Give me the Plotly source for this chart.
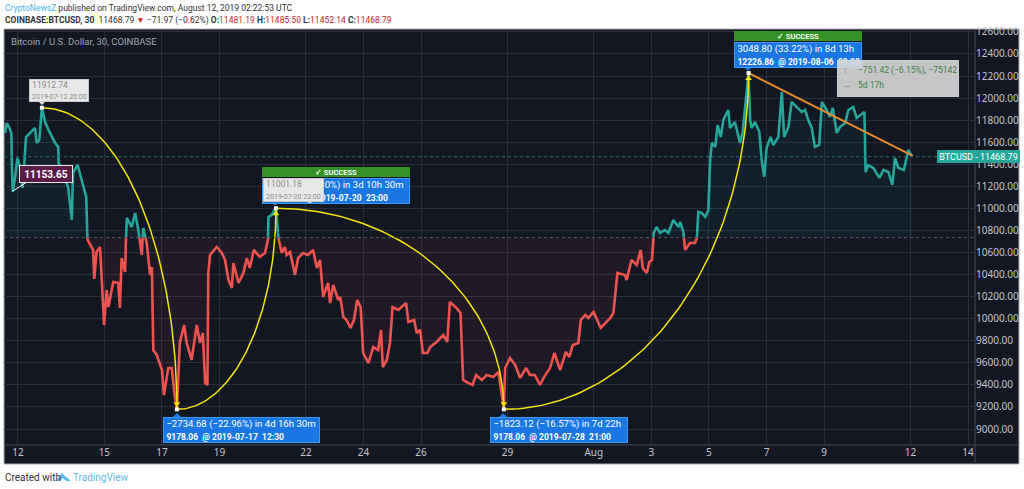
import numpy as np
import pandas as pd
import plotly.graph_objects as go

W = 1024
H = 489

START = pd.Timestamp("2019-07-12")

# days since Jul 12 00:00, close price
price_days = [
    -0.45, -0.39, -0.30, -0.23, -0.21, -0.18, -0.10, -0.02, 0.07, 0.16,
    0.28, 0.42, 0.59, 0.65, 0.74, 0.83, 0.94, 1.06, 1.17, 1.29,
    1.40, 1.41, 1.53, 1.74, 1.87, 1.91, 2.07, 2.22, 2.37, 2.41,
    2.42, 2.61, 2.65, 2.73, 2.85, 2.99, 3.08, 3.14, 3.31, 3.48,
    3.54, 3.60, 3.72, 3.75, 3.78, 3.95, 4.07, 4.18, 4.24, 4.30,
    4.35, 4.47, 4.59, 4.65, 4.70, 4.82, 5.00, 5.07, 5.22, 5.34,
    5.45, 5.52, 5.62, 5.77, 5.86, 6.03, 6.21, 6.32, 6.42, 6.50,
    6.58, 6.61, 6.67, 6.90, 7.08, 7.19, 7.31, 7.43, 7.48, 7.66,
    7.83, 7.95, 8.05, 8.19, 8.40, 8.58, 8.68, 8.70, 8.81, 8.96,
    9.03, 9.06, 9.16, 9.27, 9.33, 9.45, 9.62, 9.73, 9.90, 10.07,
    10.25, 10.38, 10.49, 10.60, 10.77, 10.84, 10.95, 11.12, 11.19, 11.30,
    11.41, 11.55, 11.67, 11.78, 11.90, 11.99, 12.17, 12.34, 12.51, 12.61,
    12.67, 12.81, 12.92, 13.01, 13.21, 13.48, 13.56, 13.76, 13.85, 13.97,
    14.06, 14.22, 14.32, 14.54, 14.77, 14.91, 15.00, 15.23, 15.37, 15.46,
    15.64, 15.79, 15.91, 16.11, 16.28, 16.51, 16.69, 16.875, 16.92, 17.09,
    17.27, 17.44, 17.65, 17.78, 17.95, 18.13, 18.27, 18.48, 18.63, 18.83,
    19.03, 19.15, 19.27, 19.46, 19.55, 19.70, 19.81, 19.99, 20.24, 20.45,
    20.57, 20.68, 20.82, 21.08, 21.14, 21.31, 21.49, 21.63, 21.70, 21.84,
    21.93, 22.02, 22.07, 22.08, 22.18, 22.30, 22.47, 22.59, 22.76, 22.94,
    23.00, 23.11, 23.17, 23.34, 23.52, 23.58, 23.63, 23.75, 23.87, 23.98,
    24.04, 24.10, 24.22, 24.30, 24.41, 24.50, 24.67, 24.73, 24.90, 25.08,
    25.17, 25.375, 25.43, 25.48, 25.60, 25.75, 25.83, 25.92, 26.00, 26.14,
    26.23, 26.41, 26.53, 26.61, 26.76, 26.87, 27.05, 27.22, 27.34, 27.45,
    27.57, 27.68, 27.83, 27.92, 28.09, 28.20, 28.30, 28.44, 28.55, 28.73,
    28.84, 29.01, 29.13, 29.40, 29.44, 29.53, 29.71, 29.92, 30.06, 30.23,
    30.37, 30.46, 30.58, 30.77, 30.92, 31.06,
]
price_close = [
    11684, 11774, 11729, 11684, 11375, 11150, 11285, 11457, 11375, 11185,
    11647, 11684, 11729, 11593, 11620, 11912, 11783, 11711, 11647, 11593,
    11557, 11412, 11348, 11194, 10895, 11321, 11393, 11257, 11103, 10732,
    10713, 10623, 10360, 10605, 10650, 9943, 10260, 10106, 10333, 10324,
    10097, 10550, 10423, 10713, 10913, 10831, 10958, 10804, 10686, 10577,
    10822, 10686, 10396, 10469, 9716, 9671, 9535, 9308, 9553, 9553,
    9290, 9178, 9780, 9943, 9780, 9626, 9943, 9780, 9870, 9417,
    9399, 10414, 10577, 10650, 10596, 10532, 10351, 10278, 10505, 10324,
    10414, 10550, 10460, 10623, 10559, 10596, 10713, 10922, 10940, 11001,
    10777, 10713, 10596, 10650, 10577, 10605, 10396, 10550, 10596, 10577,
    10623, 10460, 10532, 10197, 10324, 10142, 10306, 10170, 10197, 10015,
    9988, 9916, 9988, 10170, 10106, 9689, 9598, 9743, 9716, 9898,
    9562, 9626, 9780, 10106, 10079, 10142, 9970, 9988, 9870, 9898,
    9689, 9689, 9743, 9789, 9852, 9789, 10151, 10097, 10052, 9444,
    9417, 9399, 9490, 9444, 9490, 9471, 9517, 9178, 9553, 9644,
    9580, 9462, 9553, 9490, 9490, 9399, 9471, 9553, 9689, 9535,
    9698, 9653, 9762, 9780, 9988, 10034, 10006, 10061, 9916, 9970,
    10006, 10052, 10414, 10396, 10351, 10532, 10487, 10623, 10460, 10414,
    10514, 10532, 10713, 10777, 10831, 10777, 10804, 10777, 10895, 10831,
    10877, 10786, 10623, 10686, 10686, 10732, 10967, 10958, 10922, 10985,
    11439, 11593, 11557, 11756, 11647, 11801, 11892, 11729, 11783, 11593,
    11693, 12226.86, 11801, 11729, 11783, 11693, 11439, 11285, 11548, 11647,
    11575, 11647, 12055, 11647, 11738, 11965, 11919, 11874, 11892, 11801,
    11729, 11557, 11575, 11965, 11892, 11829, 11910, 11684, 11738, 11774,
    11892, 11919, 11820, 11874, 11330, 11393, 11366, 11276, 11348, 11330,
    11212, 11457, 11366, 11348, 11529, 11468.79,
]

base_price = 10735
last_price = 11468.79

pivot_days = [0.83, 5.52, 8.96, 16.875, 25.375]
pivot_prices = [11912.74, 9178.06, 11001.18, 9178.06, 12226.86]

trend_days = [25.375, 31.08]
trend_prices = [12226.86, 11475.44]

y_ticks = list(range(9000, 12601, 200))
x_tick_days = [0, 3, 5, 7, 10, 12, 14, 17, 20, 22, 24, 26, 28, 31, 33]
x_tick_text = ["12", "15", "17", "19", "22", "24", "26", "29", "Aug", "3", "5", "7", "9", "12", "14"]

BG = "#131722"
GRID = "#2a2e3b"
TEAL = "#26a69a"
RED = "#ef5350"
YELLOW = "#f2e60c"
BLUE = "#1976e2"
FONT = "Noto Sans"
LABEL_FONT = "Roboto"


def to_time(days):
    return START + pd.to_timedelta(np.asarray(days, dtype=float) * 86400, unit="s")


def px(x):
    return x / W


def py(y):
    return 1 - y / H


# add a point where the line crosses the baseline, so the colours change there
d_split = [price_days[0]]
p_split = [float(price_close[0])]
for d0, p0, d1, p1 in zip(price_days, price_close, price_days[1:], price_close[1:]):
    if (p0 - base_price) * (p1 - base_price) < 0:
        d_split.append(d0 + (d1 - d0) * (base_price - p0) / (p1 - p0))
        p_split.append(float(base_price))
    d_split.append(d1)
    p_split.append(float(p1))
d_split = np.array(d_split)
p_split = np.array(p_split)
x_split = to_time(d_split)
base_line = np.full(len(p_split), float(base_price))

fig = go.Figure()

# baseline fills
fig.add_trace(go.Scatter(x=x_split, y=base_line, mode="lines", line=dict(width=0), hoverinfo="skip"))
fig.add_trace(
    go.Scatter(
        x=x_split,
        y=np.maximum(p_split, base_price),
        mode="lines",
        line=dict(width=0),
        fill="tonexty",
        fillcolor="rgba(38,166,154,0.06)",
        hoverinfo="skip",
    )
)
fig.add_trace(go.Scatter(x=x_split, y=base_line, mode="lines", line=dict(width=0), hoverinfo="skip"))
fig.add_trace(
    go.Scatter(
        x=x_split,
        y=np.minimum(p_split, base_price),
        mode="lines",
        line=dict(width=0),
        fill="tonexty",
        fillcolor="rgba(239,83,80,0.06)",
        hoverinfo="skip",
    )
)

# price line
fig.add_trace(
    go.Scatter(
        x=x_split,
        y=np.where(p_split >= base_price, p_split, np.nan),
        mode="lines",
        line=dict(color=TEAL, width=2.6),
    )
)
fig.add_trace(
    go.Scatter(
        x=x_split,
        y=np.where(p_split <= base_price, p_split, np.nan),
        mode="lines",
        line=dict(color=RED, width=2.6),
    )
)

fig.add_hline(y=base_price, line=dict(color="#565962", width=1, dash="dot"))
fig.add_hline(y=last_price, line=dict(color="#1f6f6a", width=1, dash="dot"))

# curved swing lines between the pivots
t = np.linspace(0, np.pi / 2, 80)
for i in range(len(pivot_days) - 1):
    fig.add_trace(
        go.Scatter(
            x=to_time(pivot_days[i] + (pivot_days[i + 1] - pivot_days[i]) * np.sin(t)),
            y=pivot_prices[i] + (pivot_prices[i + 1] - pivot_prices[i]) * (1 - np.cos(t)),
            mode="lines",
            line=dict(color=YELLOW, width=1.5),
        )
    )

# trend line
fig.add_trace(
    go.Scatter(
        x=to_time(trend_days),
        y=trend_prices,
        mode="lines",
        line=dict(color="#e58a2f", width=2),
    )
)

# arrow heads and end points
for i in range(1, len(pivot_days)):
    up = pivot_prices[i] > pivot_prices[i - 1]
    fig.add_trace(
        go.Scatter(
            x=to_time([pivot_days[i]]),
            y=[pivot_prices[i] + (-50 if up else 50)],
            mode="markers",
            marker=dict(color=YELLOW, size=6, symbol="triangle-up" if up else "triangle-down"),
        )
    )
fig.add_trace(
    go.Scatter(
        x=to_time(pivot_days),
        y=pivot_prices,
        mode="markers",
        marker=dict(color="white", size=4, symbol="square"),
    )
)

fig.update_layout(
    width=W,
    height=H,
    showlegend=False,
    paper_bgcolor="white",
    plot_bgcolor=BG,
    margin=dict(l=0, r=0, t=0, b=0),
    font=dict(family=FONT),
    xaxis=dict(
        domain=[px(4), px(975)],
        range=[START - pd.Timedelta(days=0.486), START + pd.Timedelta(days=33.24)],
        tickvals=to_time(x_tick_days),
        ticktext=x_tick_text,
        tickangle=0,
        tickfont=dict(size=10, color="#c4c6cc"),
        ticks="",
        gridcolor=GRID,
        gridwidth=1,
        showline=False,
        zeroline=False,
        automargin=False,
    ),
    yaxis=dict(
        domain=[py(445), py(30)],
        range=[8855, 12617],
        side="right",
        tickvals=y_ticks,
        ticktext=[f"{v:.2f}" for v in y_ticks],
        tickfont=dict(size=10, color="#c4c6cc"),
        ticks="",
        gridcolor=GRID,
        gridwidth=1,
        showline=False,
        zeroline=False,
        automargin=False,
    ),
)

# dark panel behind the axes
fig.add_shape(
    type="rect",
    xref="paper",
    yref="paper",
    x0=px(4),
    x1=px(1019),
    y0=py(464),
    y1=py(29),
    fillcolor=BG,
    line=dict(color="#a9abb0", width=1),
    layer="below",
)
for x0, y0, x1, y1 in [(975, 30, 975, 464), (4, 445, 1019, 445)]:
    fig.add_shape(
        type="line",
        xref="paper",
        yref="paper",
        x0=px(x0),
        x1=px(x1),
        y0=py(y0),
        y1=py(y1),
        line=dict(color="#454852", width=1),
    )


def pointer(x, y, color, up=True):
    tip = y - 4 if up else y + 4
    fig.add_shape(
        type="path",
        xref="paper",
        yref="paper",
        path=f"M {px(x - 4)},{py(y)} L {px(x + 4)},{py(y)} L {px(x)},{py(tip)} Z",
        fillcolor=color,
        line=dict(width=0),
    )


def box(x0, y0, x1, y1, text, bg, border, color, size=9.6, align="left"):
    fig.add_annotation(
        xref="paper",
        yref="paper",
        x=px(x0),
        y=py(y0),
        xanchor="left",
        yanchor="top",
        width=x1 - x0,
        height=y1 - y0,
        text=text,
        bgcolor=bg,
        bordercolor=border,
        borderwidth=1,
        borderpad=0,
        align=align,
        valign="middle",
        showarrow=False,
        font=dict(family=LABEL_FONT, size=size, color=color),
    )


def label(x, y, text, color="#333333", size=8.5, anchor="left"):
    fig.add_annotation(
        xref="paper",
        yref="paper",
        x=px(x),
        y=py(y),
        xanchor=anchor,
        yanchor="middle",
        text=text,
        showarrow=False,
        borderpad=0,
        font=dict(family=LABEL_FONT, size=size, color=color),
    )


def small(text):
    return f'<span style="font-size:8.5px"><b>{text}</b></span>'


pointer(177, 417, BLUE)
pointer(503, 417, BLUE)
pointer(748, 67, BLUE, up=False)
pointer(42, 101, "#e4e4e4", up=False)
pointer(275, 201, "#e4e4e4", up=False)

# header and footer
label(4, 8, '<span style="color:#45b4ea">CryptoNewsZ</span> published on TradingView.com, August 12, 2019 02:22:53 UTC')
red = "#c62828"
label(
    4,
    20,
    f"<b>COINBASE:BTCUSD, 30</b>&nbsp; 11468.79 <span style='color:{red}'>▼</span> −71.97 (−0.62%) "
    f"<b>O:</b><span style='color:{red}'>11481.19</span> <b>H:</b><span style='color:{red}'>11485.50</span> "
    f"<b>L:</b><span style='color:{red}'>11452.14</span> <b>C:</b><span style='color:{red}'>11468.79</span>",
)
label(10, 41, "Bitcoin / U.S. Dollar, 30, COINBASE", color="#a2a5ad", size=9.5)
label(4, 477, "Created with", size=10)
label(72, 477, "TradingView", color="#62b8ea", size=10)
fig.add_shape(
    type="path",
    xref="paper",
    yref="paper",
    path=(
        f"M {px(56)},{py(481)} L {px(62)},{py(473)} L {px(65)},{py(476)} "
        f"L {px(71)},{py(481)} L {px(66)},{py(481)} L {px(63)},{py(478)} L {px(60)},{py(481)} Z"
    ),
    fillcolor="#62b8ea",
    line=dict(width=0),
)

# measure labels
box(163, 417, 318, 441, f"&nbsp;−2734.68 (−22.96%) in 4d 16h 30m<br>&nbsp;{small('9178.06&nbsp; @ 2019-07-17&nbsp; 12:30')}", BLUE, "#3d9bf5", "white")
box(490, 417, 626, 441, f"&nbsp;−1823.12 (−16.57%) in 7d 22h<br>&nbsp;{small('9178.06&nbsp; @ 2019-07-28&nbsp; 21:00')}", BLUE, "#3d9bf5", "white")
box(262, 178, 408, 202, f"&nbsp;1823.12 (19.80%) in 3d 10h 30m<br>&nbsp;{small('11001.18&nbsp; @ 2019-07-20&nbsp; 23:00')}", BLUE, "#3d9bf5", "white")
box(734, 42, 860, 66, f"&nbsp;3048.80 (33.22%) in 8d 13h<br>&nbsp;{small('12226.86&nbsp; @ 2019-08-06&nbsp; 09:00')}", BLUE, "#3d9bf5", "white")
box(262, 167, 408, 175, "<b>✓ SUCCESS</b>", "#339126", "#339126", "white", size=7.5, align="center")
box(734, 31, 860, 39, "<b>✓ SUCCESS</b>", "#339126", "#339126", "white", size=7.5, align="center")

# price callouts
box(29, 79, 87, 100, "&nbsp;11912.74<br>&nbsp;<span style='font-size:7px'>2019-07-12 20:00</span>", "#e8e8e8", "#c8c8c8", "#8a8a8a", size=8.5)
box(263, 178, 322, 200, "&nbsp;11001.18<br>&nbsp;<span style='font-size:7px'>2019-07-20 23:00</span>", "#e8e8e8", "#c8c8c8", "#8a8a8a", size=8.5)
box(19, 165, 71, 181, "<b>11153.65</b>", "#5c1b45", "#e5e5e5", "white", size=10, align="center")
fig.add_shape(
    type="line",
    xref="paper",
    yref="paper",
    x0=px(12.7),
    y0=py(191),
    x1=px(27),
    y1=py(182),
    line=dict(color="white", width=1),
)

box(837, 60, 957, 95, "&nbsp;", "rgba(214,214,216,0.92)", "rgba(214,214,216,0.92)", "#3f7f3f")
label(842, 70, "↕", color="#8a8a8a", size=9)
label(842, 85, "↔", color="#8a8a8a", size=9)
label(857, 70, "−751.42 (−6.15%), −75142", color="#3f7f3f", size=8.5)
label(857, 85, "5d 17h", color="#3f7f3f", size=8.5)

box(937, 150, 1018, 161, "BTCUSD - 11468.79", TEAL, TEAL, "white", size=9, align="center")

fig.write_html(
    "out.html",
    config={"displayModeBar": False},
    post_script="document.body.style.margin='0';",
)
